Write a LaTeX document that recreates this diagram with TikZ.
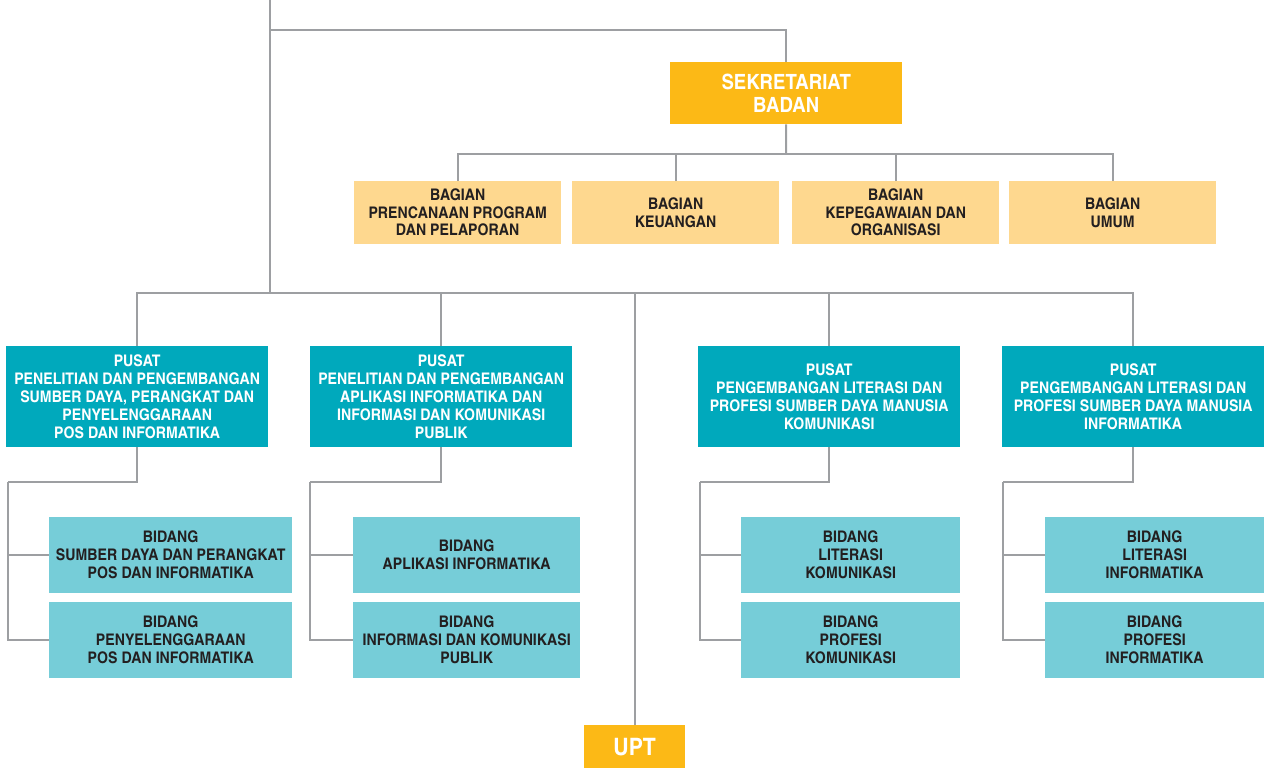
\documentclass[tikz,border=0pt]{standalone}
\usepackage{fontspec}
\setmainfont[FakeStretch=1.08]{TeX Gyre Heros Cn}
\definecolor{sekcol}{HTML}{FCB916}
\definecolor{bagcol}{HTML}{FED88F}
\definecolor{puscol}{HTML}{00A9BC}
\definecolor{bidcol}{HTML}{76CDD8}
\definecolor{linecol}{HTML}{9D9FA2}
\definecolor{inkcol}{HTML}{231F20}
\tikzset{
  line/.style={linecol, line width=2pt},
  box/.style={anchor=north west, inner sep=0pt, align=center, font=\bfseries},
  sekbox/.style={box, fill=sekcol, text=white, minimum width=232pt, minimum height=62pt, font=\bfseries\fontsize{21}{23}\selectfont},
  bagbox/.style={box, fill=bagcol, text=inkcol, minimum width=207pt, minimum height=63pt, font=\bfseries\fontsize{16}{17.5}\selectfont},
  pusbox/.style={box, fill=puscol, text=white, minimum width=262pt, minimum height=101pt, font=\bfseries\fontsize{16}{18}\selectfont},
  bidbox/.style={box, fill=bidcol, text=inkcol, minimum height=76pt, font=\bfseries\fontsize{16}{18}\selectfont},
  uptbox/.style={box, fill=sekcol, text=white, minimum width=101pt, minimum height=43pt, font=\bfseries\fontsize{24}{28}\selectfont}
}

\begin{document}
\begin{tikzpicture}[x=1pt, y=-1pt]
        \useasboundingbox (0,0) rectangle (1267,768);

        % sekretariat dan bagian
        \node[sekbox] (sek) at (670,62) {SEKRETARIAT\\BADAN};
        \node[bagbox] (bag1) at (354,181) {BAGIAN\\PRENCANAAN PROGRAM\\DAN PELAPORAN};
        \node[bagbox] (bag2) at (572,181) {BAGIAN\\KEUANGAN};
        \node[bagbox] (bag3) at (792,181) {BAGIAN\\KEPEGAWAIAN DAN\\ORGANISASI};
        \node[bagbox] (bag4) at (1009,181) {BAGIAN\\UMUM};

        % pusat
        \node[pusbox] (pus1) at (6,346) {PUSAT\\PENELITIAN DAN PENGEMBANGAN\\SUMBER DAYA, PERANGKAT DAN\\PENYELENGGARAAN\\POS DAN INFORMATIKA};
        \node[pusbox] (pus2) at (310,346) {PUSAT\\PENELITIAN DAN PENGEMBANGAN\\APLIKASI INFORMATIKA DAN\\INFORMASI DAN KOMUNIKASI\\PUBLIK};
        \node[pusbox] (pus3) at (698,346) {PUSAT\\PENGEMBANGAN LITERASI DAN\\PROFESI SUMBER DAYA MANUSIA\\KOMUNIKASI};
        \node[pusbox] (pus4) at (1002,346) {PUSAT\\PENGEMBANGAN LITERASI DAN\\PROFESI SUMBER DAYA MANUSIA\\INFORMATIKA};

        % bidang
        \node[bidbox, minimum width=243pt] (bid11) at (49,517) {BIDANG\\SUMBER DAYA DAN PERANGKAT\\POS DAN INFORMATIKA};
        \node[bidbox, minimum width=243pt] (bid12) at (49,602) {BIDANG\\PENYELENGGARAAN\\POS DAN INFORMATIKA};
        \node[bidbox, minimum width=227pt] (bid21) at (353,517) {BIDANG\\APLIKASI INFORMATIKA};
        \node[bidbox, minimum width=227pt] (bid22) at (353,602) {BIDANG\\INFORMASI DAN KOMUNIKASI\\PUBLIK};
        \node[bidbox, minimum width=219pt] (bid31) at (741,517) {BIDANG\\LITERASI\\KOMUNIKASI};
        \node[bidbox, minimum width=219pt] (bid32) at (741,602) {BIDANG\\PROFESI\\KOMUNIKASI};
        \node[bidbox, minimum width=219pt] (bid41) at (1045,517) {BIDANG\\LITERASI\\INFORMATIKA};
        \node[bidbox, minimum width=219pt] (bid42) at (1045,602) {BIDANG\\PROFESI\\INFORMATIKA};

        \node[uptbox] (upt) at (584,725) {UPT};

        % simpul garis
        \coordinate (top) at (270,0);
        \coordinate (topj) at (270,30);
        \coordinate (bus) at (270,293);
        \coordinate (bagj) at (786,154);
        \coordinate (k1) at (8,482);
        \coordinate (k2) at (310,482);
        \coordinate (k3) at (700,482);
        \coordinate (k4) at (1003,482);

        % garis
        \draw[line] (top) -- (bus);
        \draw[line] (topj) -| (sek.north);
        \draw[line] (sek.south) -- (bagj);
        \foreach \b in {bag1,bag2,bag3,bag4}
            \draw[line] (\b.north) |- (bagj);
        \foreach \p in {pus1,pus2,pus3,pus4,upt}
            \draw[line] (\p.north) |- (bus);
        \foreach \i in {1,2,3,4} {
            \draw[line] (pus\i.south) |- (k\i);
            \draw[line] (k\i) |- (bid\i1.west);
            \draw[line] (k\i) |- (bid\i2.west);
        }
    \end{tikzpicture}
\end{document}
